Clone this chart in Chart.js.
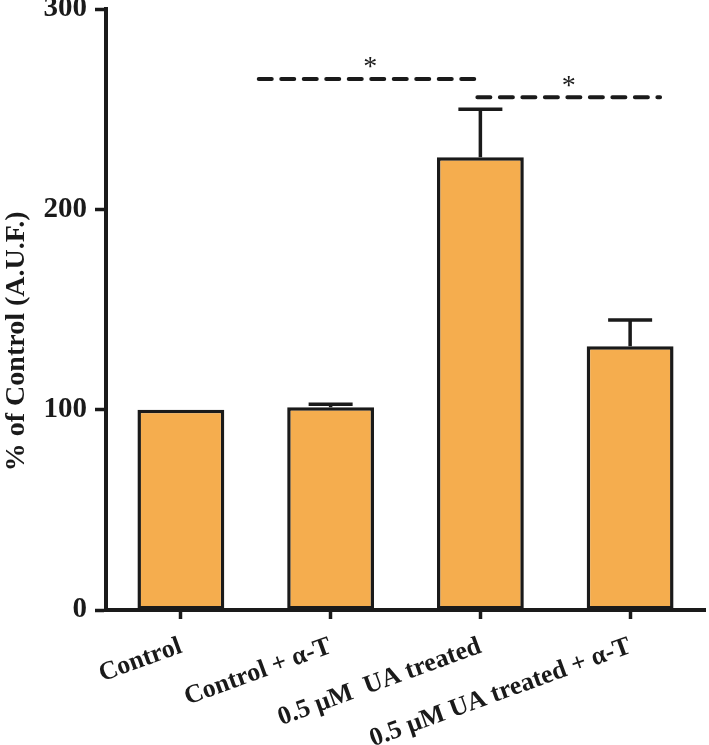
<!DOCTYPE html>
<html lang="en">
<head>
    <meta charset="UTF-8">
    <title>% of Control (A.U.F.)</title>
    <script src="https://cdn.jsdelivr.net/npm/chart.js"></script>
    <style>
        html, body { margin: 0; padding: 0; background: #fff; }
        #wrap { width: 709px; height: 745px; }
    </style>
</head>
<body>
    <div id="wrap"><canvas id="chart"></canvas></div>

    <script>
        // data
        const groups = ["Control", "Control + \u03B1-T", "0.5 \u03BCM  UA treated", "0.5 \u03BCM UA treated + \u03B1-T"];
        const means = [100, 101.2, 226, 131.7];
        const sems = [0, 1.5, 24, 13];
        const yTicks = [0, 100, 200, 300];
        const yTitle = "% of Control (A.U.F.)";

        // significance bars: from / to (category position), height, label
        const sigFrom = [0.52, 1.98];
        const sigTo = [2.01, 3.2];
        const sigY = [265, 256];
        const sigText = ["*", "*"];

        const ink = "#1a1a1a";
        const serif = "'Liberation Serif', 'Times New Roman', serif";

        // error bars, dashed significance lines, axis title
        const extras = {
            id: "extras",
            afterDatasetsDraw(chart) {
                const ctx = chart.ctx;
                const x = chart.scales.x, y = chart.scales.y;
                const meta = chart.getDatasetMeta(0);
                ctx.save();
                ctx.strokeStyle = ink;
                ctx.lineWidth = 3.5;
                meta.data.forEach((bar, i) => {
                    if (!sems[i]) return;
                    const top = y.getPixelForValue(means[i] + sems[i]);
                    const base = y.getPixelForValue(means[i]);
                    ctx.beginPath();
                    ctx.moveTo(bar.x, base);
                    ctx.lineTo(bar.x, top);
                    ctx.moveTo(bar.x - 22, top);
                    ctx.lineTo(bar.x + 22, top);
                    ctx.stroke();
                });

                // fractional category position -> pixel
                const p0 = x.getPixelForValue(0), step = x.getPixelForValue(1) - p0;
                const px = v => p0 + step * v;
                ctx.lineWidth = 4;
                ctx.lineCap = "round";
                ctx.setLineDash([13, 9.5]);
                ctx.fillStyle = ink;
                ctx.font = "28px " + serif;
                ctx.textAlign = "center";
                ctx.textBaseline = "middle";
                sigFrom.forEach((f, i) => {
                    const yy = y.getPixelForValue(sigY[i]);
                    const x0 = px(f), x1 = px(sigTo[i]);
                    ctx.beginPath();
                    ctx.moveTo(x0, yy);
                    ctx.lineTo(x1, yy);
                    ctx.stroke();
                    ctx.fillText(sigText[i], (x0 + x1) / 2, yy - 11);
                });

                // y title, sits a bit below the middle of the axis
                const ca = chart.chartArea;
                ctx.font = "bold 28px " + serif;
                ctx.translate(17, ca.top + (ca.bottom - ca.top) * 0.553);
                ctx.rotate(-Math.PI / 2);
                ctx.fillText(yTitle, 0, 0);
                ctx.restore();
            }
        };

        new Chart(document.getElementById("chart"), {
            type: "bar",
            data: {
                labels: groups,
                datasets: [{
                    data: means,
                    backgroundColor: "#f5ad4e",
                    borderColor: ink,
                    borderWidth: 3.5,
                    borderSkipped: false,
                    barPercentage: 0.58,
                    categoryPercentage: 1
                }]
            },
            options: {
                responsive: true,
                maintainAspectRatio: false,
                animation: false,
                layout: { padding: { top: 9, right: 4, left: 0, bottom: 0 } },
                plugins: {
                    legend: { display: false },
                    tooltip: { enabled: false }
                },
                scales: {
                    x: {
                        grid: {
                            offset: false,
                            drawOnChartArea: false,
                            tickLength: 9,
                            tickWidth: 3.5,
                            tickColor: ink
                        },
                        border: { color: ink, width: 4 },
                        ticks: {
                            color: ink,
                            font: { family: serif, size: 26, weight: "bold" },
                            minRotation: 20,
                            maxRotation: 20,
                            autoSkip: false,
                            padding: 12
                        },
                        afterFit(scale) {
                            scale.height = 135;
                            scale.paddingLeft = 0;
                            scale.paddingRight = 0;
                        }
                    },
                    y: {
                        min: 0,
                        max: 300,
                        afterBuildTicks(scale) {
                            scale.ticks = yTicks.map(v => ({ value: v }));
                        },
                        grid: {
                            drawOnChartArea: false,
                            tickLength: 11,
                            tickWidth: 3.5,
                            tickColor: ink
                        },
                        border: { color: ink, width: 4 },
                        ticks: {
                            color: ink,
                            font: { family: serif, size: 29, weight: "bold" },
                            padding: 8
                        },
                        afterFit(scale) {
                            scale.width = 106;
                            scale.paddingTop = 0;
                            scale.paddingBottom = 0;
                        }
                    }
                }
            },
            plugins: [extras]
        });
    </script>
</body>
</html>
